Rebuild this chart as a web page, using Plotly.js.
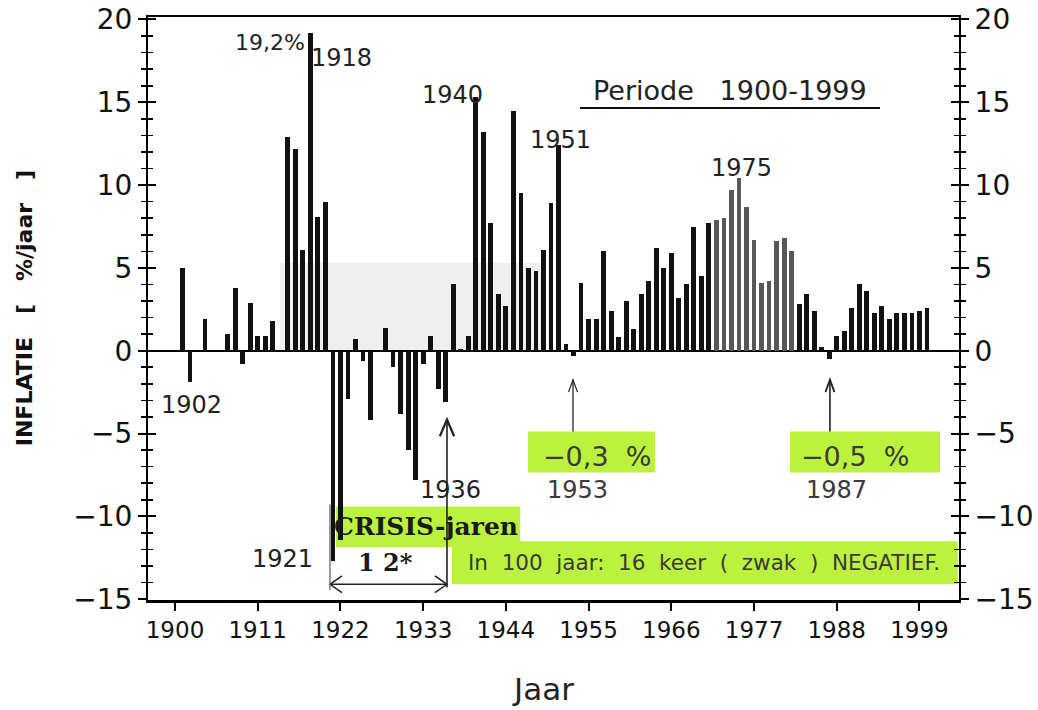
<!DOCTYPE html>
<html><head><meta charset="utf-8">
<script src="https://cdn.plot.ly/plotly-3.0.1.min.js"></script>
<style>html,body{margin:0;padding:0;background:#fff}</style>
</head><body><div id="chart" style="width:1038px;height:710px"></div>
<script>
const startYear = 1901;
const inflation = [
  5.0, -1.9, 0.0, 1.9, 0.0, 0.0, 1.0, 3.8, -0.8, 2.9,      // 1901-1910
  0.9, 0.9, 1.8, 0.0, 12.9, 12.2, 6.1, 19.2, 8.1, 9.0,     // 1911-1920
  -12.7, -11.4, -2.9, 0.7, -0.6, -4.2, 0.0, 1.4, -1.0, -3.8, // 1921-1930
  -6.0, -7.8, -0.8, 0.9, -2.3, -3.1, 4.0, 0.1, 0.9, 15.3,  // 1931-1940
  13.2, 7.7, 3.4, 2.7, 14.5, 9.5, 5.0, 4.8, 6.1, 8.9,      // 1941-1950
  12.4, 0.4, -0.3, 4.1, 1.9, 1.9, 6.0, 2.4, 0.8, 3.0,      // 1951-1960
  1.3, 3.4, 4.2, 6.2, 5.0, 5.9, 3.2, 4.0, 7.5, 4.5,        // 1961-1970
  7.7, 7.9, 8.0, 9.7, 10.4, 8.7, 6.7, 4.1, 4.2, 6.6,       // 1971-1980
  6.8, 6.0, 2.8, 3.4, 2.4, 0.2, -0.5, 0.9, 1.2, 2.6,       // 1981-1990
  4.0, 3.6, 2.3, 2.7, 1.9, 2.3, 2.3, 2.3, 2.4, 2.6         // 1991-2000
];
const years = inflation.map((_, i) => startYear + i);
const greyYears = [1972, 1973, 1974, 1975, 1976, 1977, 1978, 1979, 1980, 1981, 1982];
const xTickVals = [1900, 1911, 1922, 1933, 1944, 1955, 1966, 1977, 1988, 1999];
const yTickVals = [-15, -10, -5, 0, 5, 10, 15, 20];

const FONT = 'DejaVu Sans, Liberation Sans, sans-serif';
const SERIF = 'DejaVu Serif, Liberation Serif, serif';
const XR = [1896.41, 2004.26];
const YR = [-15.05, 20.15];
const GREEN = '#baf23e';
const TXT = '#222';

const barColors = years.map(y => greyYears.includes(y) ? '#585858' : '#111111');

const traces = [
  {type: 'bar', x: years, y: inflation, width: 0.64,
   marker: {color: barColors, line: {width: 0}}, hoverinfo: 'x+y', xaxis: 'x', yaxis: 'y'},
  {type: 'scatter', x: [], y: [], xaxis: 'x', yaxis: 'y2', showlegend: false},
  {type: 'scatter', x: [], y: [], xaxis: 'x', yaxis: 'y3', showlegend: false},
  {type: 'scatter', x: [], y: [], xaxis: 'x', yaxis: 'y4', showlegend: false}
];

function yAx(side, ticks, labels, extra) {
  return Object.assign({
    range: YR, side: side, tickmode: 'array', tickvals: yTickVals,
    ticks: ticks, ticklen: 8, tickwidth: 2, tickcolor: '#000',
    minor: {dtick: 1, ticks: ticks, ticklen: 5, tickwidth: 1.6, tickcolor: '#000', showgrid: false},
    showticklabels: labels, tickfont: {family: FONT, size: 28, color: '#111'},
    showline: true, linecolor: '#000', linewidth: 2,
    showgrid: false, zeroline: false, fixedrange: true
  }, extra || {});
}

function vline(x, y0, y1, w, c) { return {type: 'line', xref: 'x', yref: 'y', x0: x, x1: x, y0: y0, y1: y1, line: {color: c || '#222', width: w || 1.3}}; }
function vhead(x, y, dx, dy, w) { return {type: 'path', xref: 'x', yref: 'y',
  path: `M ${x - dx} ${y - dy} L ${x} ${y} L ${x + dx} ${y - dy}`, line: {color: '#222', width: w || 1.5}}; }
function hhead(x, y, dx, dy, w) { return {type: 'path', xref: 'x', yref: 'y',
  path: `M ${x - dx} ${y + dy} L ${x} ${y} L ${x - dx} ${y - dy}`, line: {color: '#222', width: w || 1.5}}; }
function rect(x0, x1, y0, y1, c) { return {type: 'rect', xref: 'x', yref: 'y', x0: x0, x1: x1, y0: y0, y1: y1,
  fillcolor: c, line: {width: 0}, layer: 'below'}; }

const shapes = [
  rect(1913.96, 1949.2, 0.06, 5.3, '#efefef'),
  rect(1946.94, 1963.83, -4.88, -7.35, GREEN),
  rect(1981.78, 2001.73, -4.88, -7.35, GREEN),
  rect(1921.4, 1945.9, -9.4, -11.87, GREEN),
  rect(1936.84, 2004.1, -11.51, -14.1, GREEN),
  {type: 'line', xref: 'x', yref: 'y', x0: 1953.86, x1: 1993.75, y0: 14.65, y1: 14.65, line: {color: '#111', width: 2}},
  vline(1952.93, -1.75, -4.88), vhead(1952.93, -1.75, 0.6, 0.75, 1.2),
  vline(1987.1, -1.75, -4.88, 1.6), vhead(1987.1, -1.75, 0.6, 0.75, 1.8),
  vline(1936.17, -4.16, -14.3, 1.6), vhead(1936.17, -4.16, 0.95, 1.0, 2.2),
  {type: 'line', xref: 'x', yref: 'y', x0: 1920.61, x1: 1936.17, y0: -14.1, y1: -14.1, line: {color: '#222', width: 1.5}},
  hhead(1936.17, -14.1, 1.6, 0.5, 1.5),
  hhead(1920.61, -14.1, -1.6, 0.5, 1.5),
  vline(1920.61, -9.28, -14.45, 1.3, '#666')
];

function ann(text, x, y, size, extra) {
  return Object.assign({text: text, x: x, y: y, xref: 'x', yref: 'y', showarrow: false,
    xanchor: 'center', yanchor: 'middle', font: {family: FONT, size: size, color: TXT}}, extra || {});
}
const grey = (s) => ({family: FONT, size: s, color: '#3a3a3a'});

const annotations = [
  ann('19,2%', 1912.63, 18.6, 22),
  ann('1918', 1922.1, 17.7, 24),
  ann('1902', 1902.13, -3.26, 24),
  ann('1921', 1914.36, -12.55, 24),
  ann('1936', 1936.7, -8.38, 24),
  ann('1940', 1936.84, 15.43, 24),
  ann('1951', 1951.33, 12.72, 24),
  ann('1975', 1975.4, 11.03, 24),
  ann('1953', 1953.46, -8.38, 24, {font: grey(24)}),
  ann('1987', 1988.03, -8.38, 24, {font: grey(24)}),
  ann('Periode   1900-1999', 1973.8, 15.73, 27),
  ann('\u22120,3  %', 1956.12, -6.39, 27, {font: grey(27)}),
  ann('\u22120,5  %', 1990.43, -6.39, 27, {font: grey(27)}),
  ann('<b>CRISIS-jaren</b>', 1933.38, -10.61, 25, {font: {family: SERIF, size: 25, color: '#1a1a1a'}}),
  ann('<b>1 2*</b>', 1927.93, -12.78, 24, {font: {family: SERIF, size: 24, color: '#1a1a1a'}}),
  ann('In  100  jaar:  16  keer  (  zwak  )  NEGATIEF.', 1970.4, -12.78, 21.5, {font: grey(21.5)}),
  {text: '<b>INFLATIE   [   %/jaar   ]</b>', xref: 'paper', yref: 'paper', x: -0.152, y: 0.5, textangle: -90,
   showarrow: false, xanchor: 'center', yanchor: 'middle', font: {family: FONT, size: 22, color: '#111'}},
  {text: 'Jaar', xref: 'paper', yref: 'paper', x: 0.487, y: -0.152, showarrow: false,
   xanchor: 'center', yanchor: 'middle', font: {family: FONT, size: 31, color: '#222'}}
];

const layout = {
  width: 1038, height: 710,
  margin: {l: 148, r: 79, t: 17, b: 110, pad: 0},
  paper_bgcolor: '#fff', plot_bgcolor: '#fff',
  showlegend: false, bargap: 0,
  font: {family: FONT, color: '#111'},
  xaxis: {range: XR, tickmode: 'array', tickvals: xTickVals, ticks: 'outside', ticklen: 8, tickwidth: 2,
    tickcolor: '#000', tickfont: {family: FONT, size: 23, color: '#111'},
    showline: true, linecolor: '#000', linewidth: 2.5, mirror: true, showgrid: false, zeroline: false, fixedrange: true},
  yaxis: yAx('left', 'outside', true, {zeroline: true, zerolinecolor: '#000', zerolinewidth: 2}),
  yaxis2: yAx('right', 'outside', true, {overlaying: 'y'}),
  yaxis3: yAx('left', 'inside', false, {overlaying: 'y'}),
  yaxis4: yAx('right', 'inside', false, {overlaying: 'y'}),
  shapes: shapes,
  annotations: annotations
};

Plotly.newPlot('chart', traces, layout, {displayModeBar: false, staticPlot: true});
</script></body></html>
